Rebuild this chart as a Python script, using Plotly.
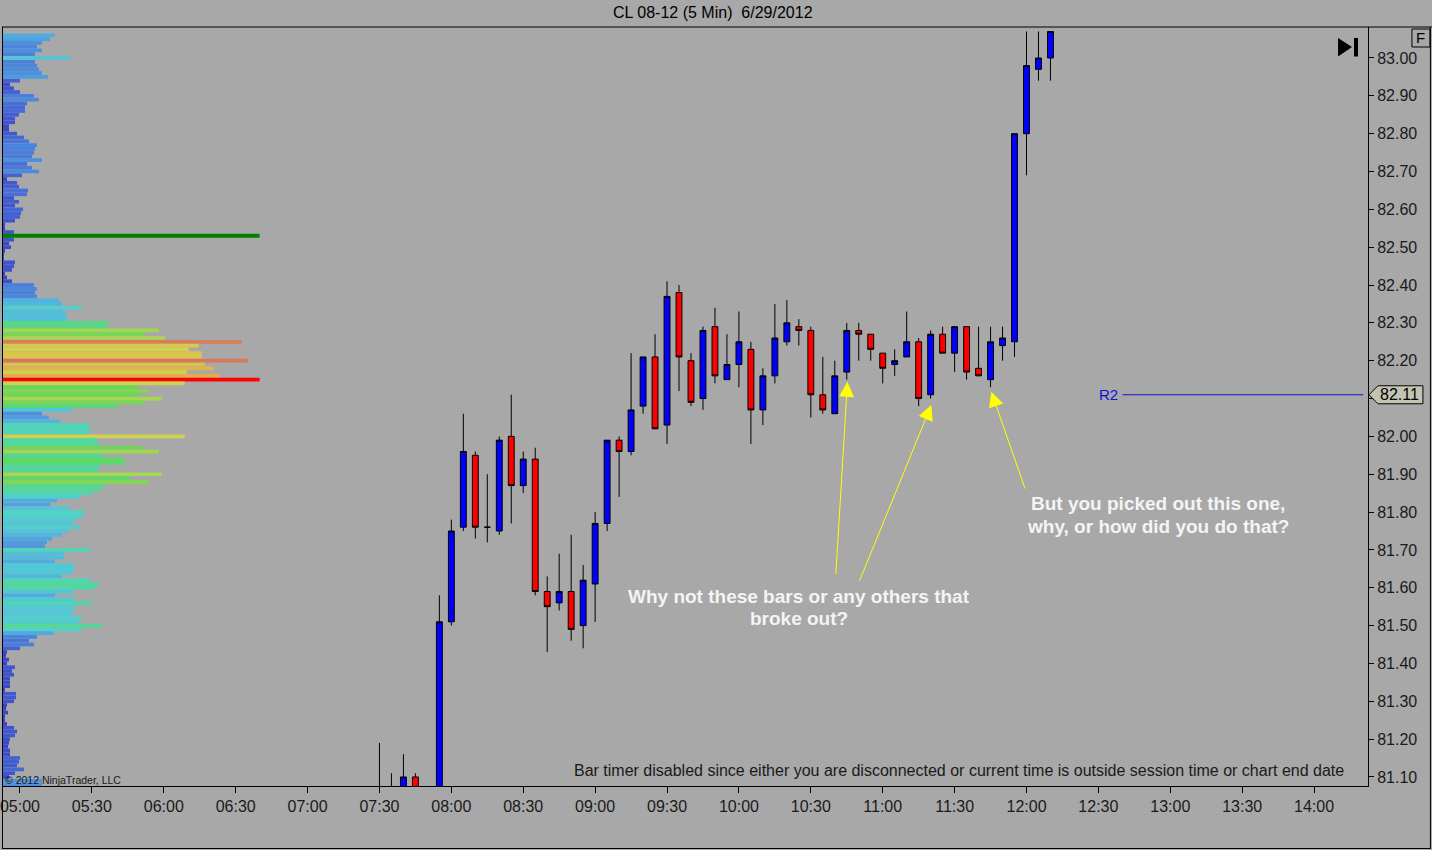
import numpy as np
import plotly.graph_objects as go

# ---------------- data ----------------
day = "2012-06-29"
bar_times = ["07:30","07:35","07:40","07:45","07:50","07:55","08:00","08:05","08:10","08:15",
             "08:20","08:25","08:30","08:35","08:40","08:45","08:50","08:55","09:00","09:05",
             "09:10","09:15","09:20","09:25","09:30","09:35","09:40","09:45","09:50","09:55",
             "10:00","10:05","10:10","10:15","10:20","10:25","10:30","10:35","10:40","10:45",
             "10:50","10:55","11:00","11:05","11:10","11:15","11:20","11:25","11:30","11:35",
             "11:40","11:45","11:50","11:55","12:00","12:05","12:10"]
opens  = [81.04,81.02,81.05,81.10,81.03,80.97,81.51,81.76,81.95,81.76,
          81.75,82.00,81.87,81.94,81.59,81.56,81.59,81.50,81.61,81.77,
          81.99,81.96,82.08,82.21,82.03,82.38,82.20,82.10,82.29,82.15,
          82.19,82.23,82.07,82.16,82.25,82.29,82.28,82.11,82.06,82.17,
          82.28,82.27,82.22,82.19,82.21,82.25,82.11,82.27,82.22,82.29,
          82.18,82.15,82.24,82.25,82.80,82.97,83.00]
highs  = [81.19,81.11,81.16,81.11,81.06,81.58,81.78,82.06,81.96,81.90,
          82.00,82.11,81.96,81.97,81.63,81.69,81.74,81.66,81.80,81.99,
          82.00,82.22,82.21,82.27,82.41,82.40,82.22,82.29,82.34,82.27,
          82.33,82.25,82.18,82.35,82.36,82.31,82.29,82.21,82.20,82.30,
          82.30,82.27,82.22,82.23,82.33,82.26,82.28,82.29,82.29,82.29,
          82.29,82.29,82.29,82.80,83.07,83.07,83.07]
lows   = [80.98,81.00,81.01,81.00,80.95,80.95,81.50,81.75,81.73,81.72,
          81.74,81.77,81.85,81.58,81.43,81.54,81.46,81.44,81.51,81.75,
          81.84,81.95,82.06,82.02,81.98,82.12,82.08,82.07,82.14,82.15,
          82.13,81.98,82.03,82.14,82.24,82.24,82.05,82.06,82.06,82.15,
          82.20,82.20,82.14,82.16,82.21,82.08,82.10,82.22,82.17,82.15,
          82.16,82.13,82.20,82.21,82.69,82.94,82.94]
closes = [81.02,81.05,81.10,81.03,80.97,81.51,81.75,81.96,81.76,81.76,
          81.99,81.87,81.94,81.59,81.55,81.59,81.49,81.62,81.77,81.99,
          81.96,82.07,82.21,82.02,82.37,82.21,82.09,82.28,82.16,82.19,
          82.25,82.07,82.16,82.26,82.30,82.28,82.11,82.07,82.16,82.28,
          82.27,82.23,82.18,82.20,82.25,82.10,82.27,82.22,82.29,82.17,
          82.16,82.25,82.26,82.80,82.98,83.00,83.07]

# volume profile: one value per 0.01 price level, from 83.06 down to 81.08
profile_top, profile_bottom = 83.06, 81.08
profile_volume = [
    53,48,40,35,40,33,68,33,35,37, 40,46,18,8,12,18,32,37,25,23,
    23,17,13,13,7,7,15,22,27,35, 33,32,30,40,25,30,37,20,5,15,
    17,26,25,12,17,13,21,19,18,13, 3,3,12,10,12,7,9,3,2,2,
    13,12,10,3,5,10,
    32,35,33,35,57,60,80,63,65,65, 107,105,157,143,163,240,197,187,200,200,
    246,203,212,185,218,258,183,137,147,137, 160,143,115,70,40,47,58,88,87,87,
    183,95,97,140,157,100,122,123,97,97, 160,128,147,103,98,90,78,55,48,68,
    83,80,75,70,78,67,60,50,
    45,43,88,63,62,53,72,72,70,60, 88,97,93,72,53,72,90,73,72,70,
    80,77,100,80,52,35,27,32,18,5, 4,7,5,13,10,12,8,8,8,3,
    14,14,12,5,4,6,3,3,5,12, 15,13,8,7,6,8,8,18,17,15,
    22,13,7,40,40]
profile_prices = np.round(np.linspace(profile_top, profile_bottom, len(profile_volume)), 2)
marker_level = 82.53          # green level line in the profile

r2_level = 82.11
r2_start, r2_end = "12:40", "14:20:30"

y_ticks = [round(81.1 + 0.1 * i, 2) for i in range(20)]
y_tick_text = ["" if abs(v - r2_level) < 0.03 else f"{v:.2f}" for v in y_ticks]

note_left = ["Why not these bars or any others that", "broke out?"]
note_right = ["But you picked out this one,", "why, or how did you do that?"]

# ---------------- helpers (pixel -> paper) ----------------
W, H = 1432, 850
L, R, T, B = 0, 1368, 27, 786
def px(x): return (x - L) / (R - L)
def py(y): return (B - y) / (B - T)

FONT = "Liberation Sans, Arial, sans-serif"
BG = "#a8a8a8"

fig = go.Figure()

# volume profile bars
prof_scale = [
    [0.00, "#3838c0"], [0.04, "#4050cc"], [0.10, "#4870d8"], [0.14, "#4c88dc"],
    [0.20, "#50a8e0"], [0.26, "#50c4dc"], [0.32, "#50d4c8"], [0.37, "#50d8a0"],
    [0.42, "#58d880"], [0.52, "#60d858"], [0.60, "#98d850"], [0.66, "#c0d450"],
    [0.74, "#d8d050"], [0.84, "#e0b048"], [0.92, "#d88058"], [0.955, "#d87858"],
    [1.00, "#ff0000"]]
fig.add_trace(go.Bar(
    orientation="h", x=profile_volume, y=profile_prices, xaxis="x2", yaxis="y",
    width=0.0098,
    marker=dict(color=profile_volume, colorscale=prof_scale, cmin=0,
                cmax=max(profile_volume), line=dict(width=0)),
    hoverinfo="skip", showlegend=False))
fig.add_trace(go.Scatter(
    x=[0, max(profile_volume)], y=[marker_level, marker_level], xaxis="x2", yaxis="y",
    mode="lines", line=dict(color="#008000", width=4), hoverinfo="skip", showlegend=False))

# candles
fig.add_trace(go.Candlestick(
    x=[f"{day} {t}" for t in bar_times], open=opens, high=highs, low=lows, close=closes,
    increasing=dict(line=dict(color="black", width=1), fillcolor="#0000ff"),
    decreasing=dict(line=dict(color="black", width=1), fillcolor="#ff0000"),
    whiskerwidth=0, hoverinfo="skip", showlegend=False))

# R2 line
fig.add_trace(go.Scatter(
    x=[f"{day} {r2_start}", f"{day} {r2_end}"], y=[r2_level, r2_level],
    mode="lines", line=dict(color="#1010d8", width=1), hoverinfo="skip", showlegend=False))

axis_font = dict(family=FONT, size=16, color="#1a1a1a")
fig.update_layout(
    width=W, height=H, margin=dict(l=L, r=W - R, t=T, b=H - B),
    paper_bgcolor=BG, plot_bgcolor=BG, showlegend=False, boxgap=0.3,
    xaxis=dict(type="date", range=[f"{day} 04:52:30", f"{day} 14:22:30"],
               tickformat="%H:%M", dtick=1800000, tick0=f"{day} 05:00",
               ticks="outside", ticklen=6, tickcolor="black", showgrid=False,
               showline=True, linecolor="black", linewidth=1, zeroline=False,
               ticklabeloverflow="allow",
               rangeslider=dict(visible=False), tickfont=axis_font, fixedrange=True),
    xaxis2=dict(overlaying="x", range=[0, R - L], visible=False, fixedrange=True),
    yaxis=dict(side="right", range=[81.0761, 83.0819], tickvals=y_ticks,
               ticktext=y_tick_text, ticks="outside", ticklen=5,
               tickcolor="black", showgrid=False, showline=True, linecolor="black",
               linewidth=1, zeroline=False, tickfont=axis_font, fixedrange=True),
)

shapes = []
line_k = dict(color="black", width=1)
shapes.append(dict(type="line", xref="paper", yref="paper", x0=px(0), x1=px(1432), y0=py(27), y1=py(27), line=line_k))
shapes.append(dict(type="line", xref="paper", yref="paper", x0=px(1430.5), x1=px(1430.5), y0=py(27), y1=py(849), line=line_k))
shapes.append(dict(type="line", xref="paper", yref="paper", x0=px(0), x1=px(1431), y0=py(848.5), y1=py(848.5), line=line_k))
shapes.append(dict(type="line", xref="paper", yref="paper", x0=px(0.5), x1=px(0.5), y0=py(27), y1=py(849), line=line_k))
# F box
shapes.append(dict(type="rect", xref="paper", yref="paper", x0=px(1412), x1=px(1430), y0=py(47), y1=py(29), line=line_k))
# go-to-end icon
shapes.append(dict(type="path", xref="paper", yref="paper",
                   path=f"M{px(1338)},{py(38)} L{px(1352)},{py(47)} L{px(1338)},{py(56.5)} Z",
                   fillcolor="black", line=dict(width=0)))
shapes.append(dict(type="rect", xref="paper", yref="paper", x0=px(1354), x1=px(1358), y0=py(56.5), y1=py(38),
                   fillcolor="black", line=dict(width=0)))
# price marker for R2
dy = 9 / 378.4
shapes.append(dict(type="path", xref="paper", yref="y",
                   path=(f"M{px(1369)},{r2_level} L{px(1378)},{r2_level + dy} L{px(1423)},{r2_level + dy} "
                         f"L{px(1423)},{r2_level - dy} L{px(1378)},{r2_level - dy} Z"),
                   fillcolor="#c4c4b4", line=line_k))
fig.update_layout(shapes=shapes)

def txt(x, y, text, font, xanchor="center", yref="paper", **kw):
    return dict(xref="paper", yref=yref, x=x, y=y, text=text, showarrow=False,
                xanchor=xanchor, yanchor="middle", font=font, borderpad=0, **kw)

ann = []
ann.append(txt(px(712), py(13), "CL 08-12 (5 Min)  6/29/2012", dict(family=FONT, size=16, color="black")))
ann.append(txt(px(1421), py(38), "F", dict(family=FONT, size=15, color="black")))
ann.append(txt(px(1400), r2_level, f"{r2_level:.2f}", dict(family=FONT, size=16, color="black"), yref="y"))
ann.append(txt(px(1119), r2_level, "R2", dict(family=FONT, size=15, color="#1010d8"), xanchor="right", yref="y"))
ann.append(txt(px(1345), py(770),
               "Bar timer disabled since either you are disconnected or current time is outside session time or chart end date",
               dict(family=FONT, size=16, color="#1a1a1a"), xanchor="right"))
ann.append(txt(px(2), py(780), "© 2012 NinjaTrader, LLC", dict(family=FONT, size=10.5, color="#1a1a1a"), xanchor="left"))
white = dict(family=FONT, size=19, color="#f4f4f4")
for i, line in enumerate(note_left):
    ann.append(txt(px(798), py(596 + 22 * i), f"<b>{line}</b>", white))
for i, line in enumerate(note_right):
    ann.append(txt(px(1158), py(504 + 22 * i), f"<b>{line}</b>", white))
for tip, tail in [((846.7, 381.7), (835, 575.7)), ((930.7, 405), (858.3, 582.3)), ((990.7, 391.7), (1025, 490))]:
    ann.append(dict(xref="paper", yref="paper", x=px(tip[0]), y=py(tip[1]), text="",
                    showarrow=True, ax=tail[0] - tip[0], ay=tail[1] - tip[1],
                    arrowcolor="#ffff00", arrowwidth=1, arrowhead=2, arrowsize=3, standoff=0))
fig.update_layout(annotations=ann)

fig.write_html("out.html", config={"displayModeBar": False},
               post_script="document.body.style.margin='0';document.body.style.overflow='hidden';")
